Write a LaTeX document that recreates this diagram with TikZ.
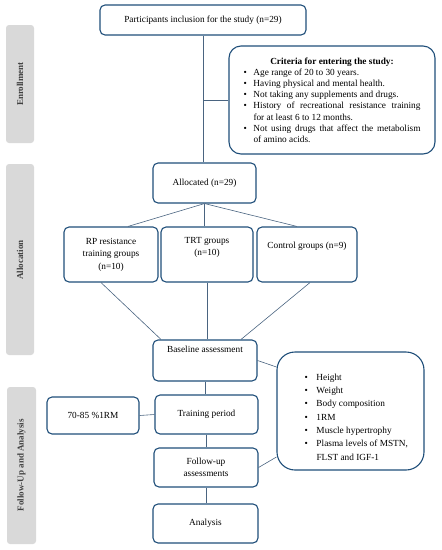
\documentclass[tikz,border=0pt]{standalone}
\usepackage{fontspec}
\setmainfont{Liberation Serif}
\definecolor{boxc}{HTML}{1F4E79}
\definecolor{linec}{HTML}{4A6480}
\definecolor{barc}{HTML}{D9D9D9}
\definecolor{bartext}{HTML}{404040}
\newcommand\bxfont{\fontsize{9.3}{12.5}\selectfont}
\newcommand\critem[1]{\par\hangindent=10pt\hangafter=1\noindent\makebox[10pt][l]{\textbullet}#1}
\newcommand\msitem[1]{\par\hangindent=12pt\hangafter=1\noindent\makebox[12pt][l]{\textbullet}#1}
\begin{document}
\begin{tikzpicture}[x=1pt,y=-1pt,
  box/.style={draw=boxc, line width=1.1pt, rounded corners=5pt, align=center, inner sep=1pt, font=\bxfont, text=black},
  conn/.style={draw=linec, line width=0.6pt},
  bar/.style={fill=barc, rounded corners=3pt},
  barlabel/.style={rotate=90, font=\fontsize{9}{10}\selectfont\bfseries, text=bartext}]
\useasboundingbox (0,0) rectangle (442,550);
% side bars
\fill[bar] (6,25) rectangle (34,143);
\fill[bar] (6,164) rectangle (34,355);
\fill[bar] (7,387) rectangle (36,544);
\node[barlabel] (lenr) at (20,84) {Enrollment};
\node[barlabel] (lall) at (20,260) {Allocation};
\node[barlabel] (lfol) at (21.5,465) {Follow-Up and Analysis};
% boxes
\node[box, minimum width=206pt, minimum height=30pt] (top) at (203,20) {Participants inclusion for the study (n=29)};
\node[box, rounded corners=12pt, minimum width=206pt, minimum height=108pt] (crit) at (332,100) {%
  \begin{minipage}{177pt}\fontsize{9.3}{11.2}\selectfont
  \centering\textbf{Criteria for entering the study:}\par
  \leftskip=0pt\rightskip=0pt\parfillskip=0pt plus 1fil\relax
  \critem{Age range of 20 to 30 years.}
  \critem{Having physical and mental health.}
  \critem{Not taking any supplements and drugs.}
  \critem{History of recreational resistance training\linebreak for at least 6 to 12 months.}
  \critem{Not using drugs that affect the metabolism\linebreak of amino acids.}\par
  \end{minipage}};
\node[box, minimum width=103pt, minimum height=40pt] (alloc) at (204.5,183) {Allocated (n=29)};
\node[box, minimum width=94pt, minimum height=55pt] (rp) at (111,254.5) {RP resistance\\training groups\\(n=10)};
\node[box, minimum width=92pt, minimum height=55pt] (trt) at (207,254.5) {TRT groups\\(n=10)\\[4pt]};
\node[box, minimum width=100pt, minimum height=55pt] (ctrl) at (307,254.5) {Control groups (n=9)\\[6pt]};
\node[box, minimum width=104pt, minimum height=41pt] (base) at (205,360.5) {Baseline assessment\\[10pt]};
\node[box, rounded corners=18pt, minimum width=147pt, minimum height=118pt] (meas) at (350.5,411) {};
\node[font=\bxfont, inner sep=0pt] (meastxt) at (358,417) {%
  \begin{minipage}{107pt}\fontsize{9.3}{13.3}\selectfont\raggedright
  \msitem{Height}
  \msitem{Weight}
  \msitem{Body composition}
  \msitem{1RM}
  \msitem{Muscle hypertrophy}
  \msitem{Plasma levels of MSTN,\newline FLST and IGF-1}\par
  \end{minipage}};
\node[box, minimum width=103pt, minimum height=39pt] (train) at (206.5,414.5) {Training period};
\node[box, minimum width=92pt, minimum height=37pt] (rm) at (93,415.5) {70-85 \%1RM};
\node[box, minimum width=104pt, minimum height=39pt] (fol) at (206,467.5) {Follow-up\\assessments};
\node[box, minimum width=105pt, minimum height=39pt] (ana) at (205.5,523.5) {Analysis};
% connectors
\coordinate (j) at (top.south |- crit.west);
\draw[conn] (top.south) -- (top.south |- alloc.north);
\draw[conn] (j) -- (crit.west);
\draw[conn] (alloc.south) -- ([xshift=17pt]rp.north);
\draw[conn] (alloc.south) -- (alloc.south |- trt.north);
\draw[conn] (alloc.south) -- ([xshift=-10pt]ctrl.north);
\draw[conn] ([xshift=-10pt]rp.south) -- ([xshift=-44pt]base.north);
\draw[conn] (trt.south) -- (trt.south |- base.north);
\draw[conn] ([xshift=3pt]ctrl.south) -- ([xshift=36pt]base.north);
\draw[conn] (base.east) -- ([yshift=44pt]meas.west);
\draw[conn] (fol.east) -- ([yshift=-46pt]meas.west);
\draw[conn] (base.south) -- (base.south |- train.north);
\draw[conn] (train.south) -- (train.south |- fol.north);
\draw[conn] (fol.south) -- (fol.south |- ana.north);
\draw[conn] (rm.east) -- (train.west);
\end{tikzpicture}
\end{document}
